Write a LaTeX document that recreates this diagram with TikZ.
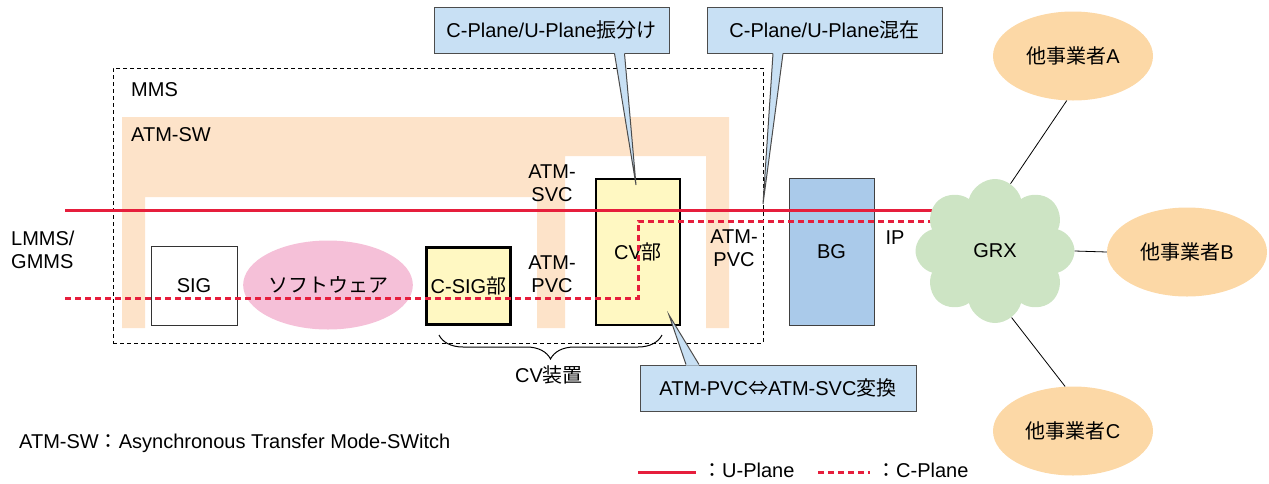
\documentclass[tikz,border=0pt]{standalone}
\usepackage{fontspec}
\setmainfont{Liberation Sans}
\newfontfamily\jpfont{Noto Sans CJK JP}
\usepackage{tikz}
\usetikzlibrary{
    shapes.geometric,
    shapes.symbols,
    decorations.pathreplacing,
    calc
}
\newcommand{\jp}[1]{{\jpfont #1}}
\newcommand{\lblsize}{\fontsize{20}{23.5}\selectfont}
\definecolor{swpeach}{RGB}{253,227,201}
\definecolor{opcopeach}{RGB}{252,216,166}
\definecolor{softpink}{RGB}{245,192,216}
\definecolor{cvyellow}{RGB}{255,248,194}
\definecolor{bgblue}{RGB}{170,202,234}
\definecolor{calblue}{RGB}{200,224,244}
\definecolor{grxgreen}{RGB}{205,228,196}
\definecolor{planered}{RGB}{230,30,60}
\tikzset{
  lbl/.style    = {inner sep=0pt, align=center, font=\lblsize},
  uplane/.style = {planered, line width=3pt},
  cplane/.style = {planered, line width=3pt, dash pattern=on 6pt off 4pt},
  link/.style   = {black, line width=0.8pt}
}

\begin{document}
\begin{tikzpicture}[x=1pt, y=-1pt,
    box/.style={draw=black!80, fill=white, line width=1pt, minimum width=86pt,
                minimum height=79pt, inner sep=0pt, font=\lblsize},
    cvbox/.style={box, draw=black, fill=cvyellow, line width=2.6pt},
    oval/.style={ellipse, minimum width=160pt, minimum height=89pt,
                 inner sep=0pt, font=\lblsize},
    callout/.style={draw=black!70, fill=calblue, line width=1pt,
                    minimum height=46pt, inner sep=0pt, font=\lblsize},
    calfill/.style={fill=calblue},
    calline/.style={draw=black!70, line width=1pt}
  ]
    \useasboundingbox (0,0) rectangle (1269,483);
    \fill[swpeach] (122,117) -- (729,117) -- (729,328) -- (706,328) -- (706,156)
      -- (565,156) -- (565,328) -- (537,328) -- (537,197) -- (145,197)
      -- (145,328) -- (122,328) -- cycle;
    \node[draw, line width=0.8pt, dash pattern=on 4pt off 3pt,
          minimum width=650pt, minimum height=275pt](mms) at (438,205.5) {};

    \node[lbl, anchor=west](mmst) at (131,90) {MMS};
    \node[lbl, anchor=west](swt) at (131,135) {ATM-SW};
    \node[lbl](svc) at (552,183) {ATM-\\SVC};
    \node[lbl](pvc1) at (552,274) {ATM-\\PVC};
    \node[lbl](pvc2) at (734,248) {ATM-\\PVC};
    \node[lbl, align=left, anchor=west](lmms) at (11,250) {LMMS/\\GMMS};
    \node[lbl](ip) at (895,238) {IP};

    \node[box](sig) at (194,285.5) {SIG};
    \node[oval, fill=softpink](soft) at (328,285) {\jp{ソフトウェア}};
    \node[cvbox, minimum width=84pt, minimum height=77pt](csig) at (468.5,286) {C-SIG\jp{部}};
    \node[cvbox, minimum width=84pt, minimum height=146pt](cv) at (638,252) {CV\jp{部}};
    \node[box, draw=black!75, fill=bgblue, minimum width=85pt,
          minimum height=147pt](bg) at (831.5,251.5) {BG};

    \coordinate (uin) at (65,210);
    \coordinate (uout) at (960,210);
    \coordinate (cin) at (65,298);
    \coordinate (cout) at (960,221);
    \draw[uplane](uin) -- (uout);
    \draw[cplane](cin) -- (cin -| cv.center) -- (cv.center |- cout) -- (cout);

    \node[callout, minimum width=235pt](cal1) at (551.5,30) {C-Plane/U-Plane\jp{振分け}};
    \coordinate (tip1) at (636,185);
    \fill[calfill]([xshift=63pt,yshift=1pt]cal1.south) -- (tip1)
      -- ([xshift=73pt,yshift=1pt]cal1.south) -- cycle;
    \draw[calline]([xshift=63pt]cal1.south) -- (tip1) -- ([xshift=73pt]cal1.south);

    \node[callout, minimum width=235pt](cal2) at (824.5,30) {C-Plane/U-Plane\jp{混在}};
    \coordinate (tip2) at (763,204);
    \fill[calfill]([xshift=-51.5pt,yshift=1pt]cal2.south) -- (tip2)
      -- ([xshift=-41.5pt,yshift=1pt]cal2.south) -- cycle;
    \draw[calline]([xshift=-51.5pt]cal2.south) -- (tip2) -- ([xshift=-41.5pt]cal2.south);

    \node[callout, minimum width=276pt](cal3) at (778,388) {ATM-PVC\jp{⇔}ATM-SVC\jp{変換}};
    \coordinate (tip3) at (669,315);
    \fill[calfill]([xshift=-92pt,yshift=-1pt]cal3.north) -- (tip3)
      -- ([xshift=-79pt,yshift=-1pt]cal3.north) -- cycle;
    \draw[calline]([xshift=-92pt]cal3.north) -- (tip3) -- ([xshift=-79pt]cal3.north);

    \node[cloud, cloud puffs=8, cloud puff arc=150, cloud ignores aspect, fill=grxgreen,
          minimum width=159pt, minimum height=144pt, inner sep=0pt,
          font=\lblsize](grx) at (995,251) {GRX};
    \node[oval, fill=opcopeach](opA) at (1073,56) {\jp{他事業者}A};
    \node[oval, fill=opcopeach](opB) at (1187,252) {\jp{他事業者}B};
    \node[oval, fill=opcopeach](opC) at (1073,431) {\jp{他事業者}C};
    \draw[link](grx.77) -- (opA.-98);
    \draw[link](grx.east) -- (opB.west);
    \draw[link](grx.-76) -- (opC.100);

    \coordinate (br1) at (439,335);
    \coordinate (br2) at (662,335);
    \draw[decorate, decoration={brace, mirror, amplitude=24pt}, line width=1pt](br1) -- (br2);
    \node[lbl](cvdev) at (549,375) {CV\jp{装置}};

    \node[lbl, anchor=west](abbr) at (19,443) {ATM-SW\jp{：}Asynchronous Transfer Mode-SWitch};
    \coordinate (lu1) at (638,472);
    \coordinate (lu2) at (696,472);
    \draw[uplane](lu1) -- (lu2);
    \node[lbl, anchor=west](lut) at (702,470) {\jp{：}U-Plane};
    \coordinate (lc1) at (818,472);
    \coordinate (lc2) at (870,472);
    \draw[cplane](lc1) -- (lc2);
    \node[lbl, anchor=west](lct) at (876,470) {\jp{：}C-Plane};
  \end{tikzpicture}
\end{document}
